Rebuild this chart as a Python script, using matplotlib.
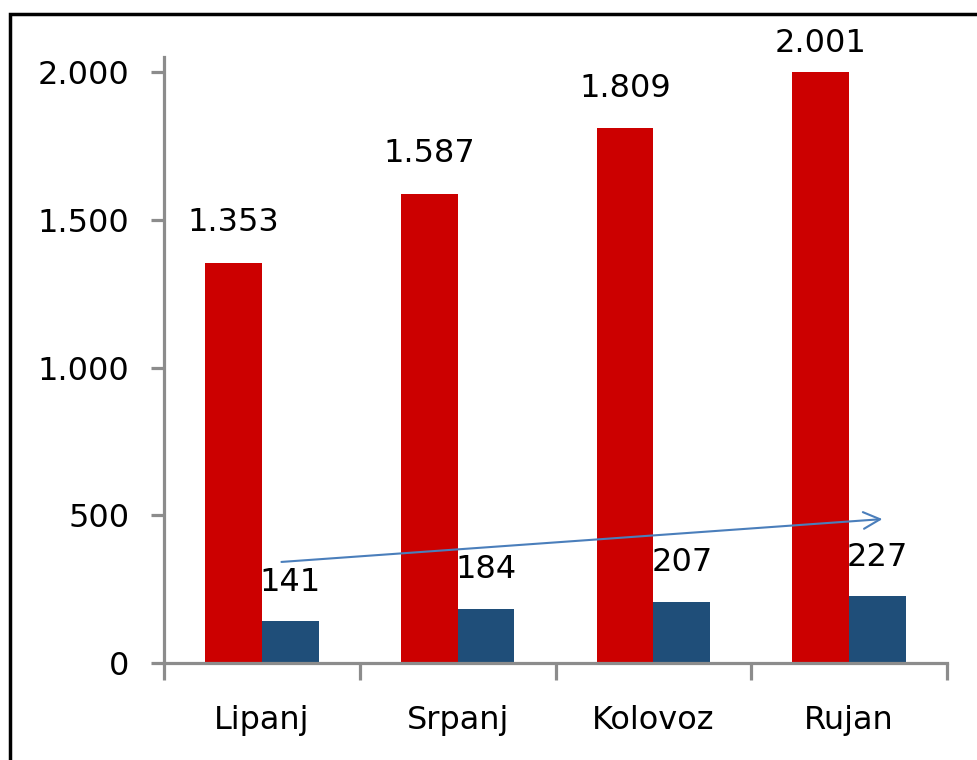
import matplotlib
matplotlib.use("Agg")
import matplotlib.pyplot as plt
from matplotlib.patches import Rectangle
from matplotlib.ticker import FixedLocator, FuncFormatter
import numpy as np

months = ["Lipanj", "Srpanj", "Kolovoz", "Rujan"]
series_a = [1353, 1587, 1809, 2001]
series_b = [141, 184, 207, 227]
y_ticks = [0, 500, 1000, 1500, 2000]
# trend arrow endpoints in data coords (category index, value)
arrow_start = (0.10, 342)
arrow_end = (3.17, 487)

RED = "#CC0000"
BLUE = "#1F4E79"
GRAY = "#8C8C8C"
FS = 23

def fmt(v, pos=None):
    return f"{int(v):,}".replace(",", ".")

plt.rcParams["font.family"] = ["DejaVu Sans"]
fig = plt.figure(figsize=(9.77, 7.6), dpi=100)
W, H = 977, 760
ax = fig.add_axes([164 / W, (H - 663) / H, (947 - 164) / W, (663 - 57) / H])

x = np.arange(len(months))
bw = 0.29
ax.bar(x - bw / 2, series_a, bw, color=RED, zorder=2)
ax.bar(x + bw / 2, series_b, bw, color=BLUE, zorder=2)

# label offsets (points); the top label is clamped near the chart's top edge
label_off_a = [29, 29, 29, 20]
for xi, v, off in zip(x, series_a, label_off_a):
    ax.annotate(fmt(v), (xi - bw / 2, v), xytext=(0, off), textcoords="offset points",
                ha="center", va="center", fontsize=FS, color="black", annotation_clip=False)
for xi, v in zip(x, series_b):
    ax.annotate(fmt(v), (xi + bw / 2, v), xytext=(0, 28), textcoords="offset points",
                ha="center", va="center", fontsize=FS, color="black", annotation_clip=False)

ax.annotate("", xy=arrow_end, xytext=arrow_start,
            arrowprops=dict(arrowstyle="->", color="#4A7EBB", lw=1.5, mutation_scale=30,
                            shrinkA=0, shrinkB=0), zorder=3)

ax.set_xlim(-0.5, len(months) - 0.5)
ax.set_ylim(0, 2000 * 606 / 591)

for s in ["top", "right"]:
    ax.spines[s].set_visible(False)
for s in ["left", "bottom"]:
    ax.spines[s].set_color(GRAY)
    ax.spines[s].set_linewidth(2.3)

ax.yaxis.set_major_locator(FixedLocator(y_ticks))
ax.yaxis.set_major_formatter(FuncFormatter(fmt))
ax.tick_params(axis="y", direction="out", length=9.4, width=2.3, color=GRAY,
               pad=15.5, labelsize=FS)

ax.set_xticks(x)
ax.set_xticklabels(months)
ax.set_xticks(np.arange(-0.5, len(months)), minor=True)
ax.tick_params(axis="x", which="major", length=0, pad=30, labelsize=FS)
ax.tick_params(axis="x", which="minor", direction="out", length=12, width=2.3, color=GRAY)

fig.patches.append(Rectangle((9.5 / W, -0.1), 1.2, (H - 14) / H + 0.1, transform=fig.transFigure,
                             fill=False, edgecolor="black", linewidth=2.5, figure=fig))

fig.savefig("out.png", dpi=100)
